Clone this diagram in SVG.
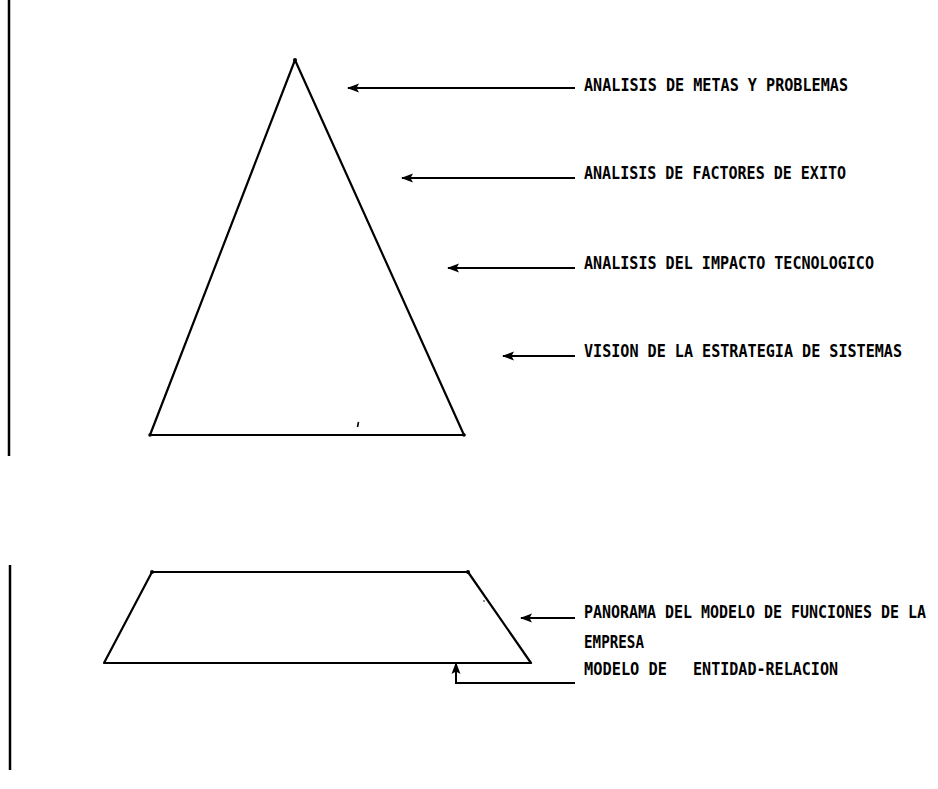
<svg xmlns="http://www.w3.org/2000/svg" width="938" height="789" viewBox="0 0 938 789">
  <defs>
    <marker id="head" viewBox="0 0 12 10" refX="11" refY="5" markerWidth="12" markerHeight="10" markerUnits="userSpaceOnUse" orient="auto">
      <path d="M12,5 L0,0.5 L2.5,5 L0,9.5 Z" fill="#000"/>
    </marker>
  </defs>
  <style>
    .edge { fill: none; stroke: #000; stroke-width: 2.2; stroke-linejoin: round; }
    .rule { stroke: #000; stroke-width: 2.5; }
    .conn { fill: none; stroke: #000; stroke-width: 2; }
    .lbl { font-family: "DejaVu Sans Mono", "Liberation Mono", monospace; font-weight: bold; font-size: 18px; fill: #000; }
    .vtx { fill: #000; }
  </style>
  <rect width="938" height="789" fill="#fff"/>

  <!-- margin rules -->
  <line class="rule" x1="9" y1="0" x2="9" y2="456"/>
  <line class="rule" x1="10" y1="565" x2="10" y2="770"/>

  <!-- pyramid -->
  <g id="pyramid">
    <polygon class="edge" points="295,60 464,435 150,435"/>
    <circle class="vtx" cx="295" cy="60" r="2"/>
    <circle class="vtx" cx="464" cy="435" r="1.8"/>
    <circle class="vtx" cx="150" cy="435" r="1.8"/>
    <path d="M358.5,422 L357.5,427" stroke="#000" stroke-width="1.6" fill="none"/>
  </g>

  <!-- base block -->
  <g id="base">
    <polygon class="edge" points="152,572 468,572 531,663 104,663"/>
    <circle class="vtx" cx="152" cy="572" r="2"/>
    <circle class="vtx" cx="468" cy="572" r="2"/>
    <circle class="vtx" cx="484" cy="601" r="0.8"/>
  </g>

  <!-- connectors -->
  <g id="connectors">
    <line class="conn" x1="575" y1="88" x2="348" y2="88" marker-end="url(#head)"/>
    <line class="conn" x1="575" y1="178" x2="402" y2="178" marker-end="url(#head)"/>
    <line class="conn" x1="575" y1="268" x2="448" y2="268" marker-end="url(#head)"/>
    <line class="conn" x1="575" y1="356" x2="503" y2="356" marker-end="url(#head)"/>
    <line class="conn" x1="575" y1="618" x2="521" y2="618" marker-end="url(#head)"/>
    <polyline class="conn" points="575,683 456,683 456,663" marker-end="url(#head)"/>
  </g>

  <!-- labels -->
  <g id="label-metas"><text class="lbl" x="584" y="91" textLength="264" lengthAdjust="spacingAndGlyphs">ANALISIS DE METAS Y PROBLEMAS</text></g>
  <g id="label-factores"><text class="lbl" x="584" y="179" textLength="262" lengthAdjust="spacingAndGlyphs">ANALISIS DE FACTORES DE EXITO</text></g>
  <g id="label-impacto"><text class="lbl" x="584" y="269" textLength="290" lengthAdjust="spacingAndGlyphs">ANALISIS DEL IMPACTO TECNOLOGICO</text></g>
  <g id="label-vision"><text class="lbl" x="584" y="357" textLength="318" lengthAdjust="spacingAndGlyphs">VISION DE LA ESTRATEGIA DE SISTEMAS</text></g>
  <g id="label-panorama">
    <text class="lbl" x="584" y="618" textLength="342" lengthAdjust="spacingAndGlyphs">PANORAMA DEL MODELO DE FUNCIONES DE LA</text>
    <text class="lbl" x="584" y="648" textLength="60" lengthAdjust="spacingAndGlyphs">EMPRESA</text>
  </g>
  <g id="label-modelo">
    <text class="lbl" x="584" y="675" textLength="83" lengthAdjust="spacingAndGlyphs">MODELO DE</text>
    <text class="lbl" x="693" y="675" textLength="145" lengthAdjust="spacingAndGlyphs">ENTIDAD-RELACION</text>
  </g>
</svg>
